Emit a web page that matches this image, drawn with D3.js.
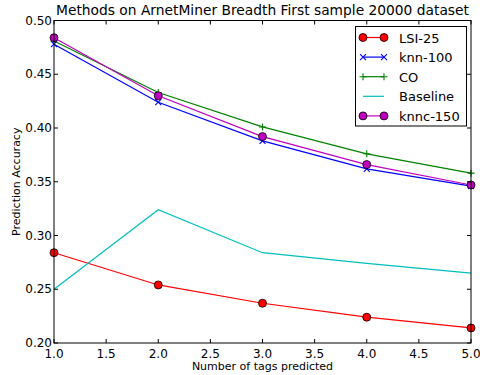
<!DOCTYPE html>
<html>
<head>
<meta charset="utf-8">
<script src="https://cdn.jsdelivr.net/npm/d3@7"></script>
<style>
  body { margin: 0; background: #fff; }
  svg { font-family: "DejaVu Sans", sans-serif; }
</style>
</head>
<body>
<div id="chart"></div>
<script>
const tagsPredicted = [1, 2, 3, 4, 5];
const lsi25 = [0.284, 0.254, 0.237, 0.224, 0.214];
const knn100 = [0.478, 0.424, 0.388, 0.362, 0.346];
const co = [0.481, 0.433, 0.401, 0.376, 0.358];
const baseline = [0.250, 0.324, 0.284, 0.274, 0.265];
const knnc150 = [0.484, 0.430, 0.392, 0.366, 0.347];
const xTicks = [1.0, 1.5, 2.0, 2.5, 3.0, 3.5, 4.0, 4.5, 5.0];
const yTicks = [0.20, 0.25, 0.30, 0.35, 0.40, 0.45, 0.50];

const series = [
  { name: 'LSI-25', values: lsi25, color: '#ff0000', marker: 'circle' },
  { name: 'knn-100', values: knn100, color: '#0000ff', marker: 'x' },
  { name: 'CO', values: co, color: '#008000', marker: 'plus' },
  { name: 'Baseline', values: baseline, color: '#00bfbf', marker: 'none' },
  { name: 'knnc-150', values: knnc150, color: '#bf00bf', marker: 'circle' },
];

const width = 480;
const height = 375;
const margin = { left: 54, top: 20.5, right: 9, bottom: 32 };

const svg = d3.select('#chart')
  .append('svg')
  .attr('width', width)
  .attr('height', height);

const x = d3.scaleLinear()
  .domain([1, 5])
  .range([margin.left, width - margin.right]);

const y = d3.scaleLinear()
  .domain([0.2, 0.5])
  .range([height - margin.bottom, margin.top]);

const plot = svg.append('g');

const line = d3.line()
  .x((d, i) => x(tagsPredicted[i]))
  .y(d => y(d));

plot.selectAll('path.series')
  .data(series)
  .enter().append('path')
    .attr('class', 'series')
    .attr('fill', 'none')
    .attr('stroke', d => d.color)
    .attr('stroke-width', 1.2)
    .attr('d', d => line(d.values));

function drawMarker(g, kind, color) {
  if (kind === 'circle') {
    g.append('circle').attr('r', 4)
      .attr('fill', color).attr('stroke', '#000').attr('stroke-width', 0.8);
  } else if (kind === 'x') {
    g.append('path').attr('d', 'M-3,-3L3,3M-3,3L3,-3')
      .attr('stroke', color).attr('stroke-width', 1.1);
  } else if (kind === 'plus') {
    g.append('path').attr('d', 'M-3.5,0H3.5M0,-3.5V3.5')
      .attr('stroke', color).attr('stroke-width', 1.1);
  }
}

series.forEach(s => {
  if (s.marker === 'none') return;
  s.values.forEach((v, i) => {
    const g = plot.append('g')
      .attr('transform', `translate(${x(tagsPredicted[i])},${y(v)})`);
    drawMarker(g, s.marker, s.color);
  });
});

// frame and inward ticks on all four sides
const x0 = x.range()[0], x1 = x.range()[1];
const y0 = y.range()[0], y1 = y.range()[1];
const frame = svg.append('g').attr('stroke', '#000').attr('fill', 'none');
frame.append('rect')
  .attr('x', x0).attr('y', y1)
  .attr('width', x1 - x0).attr('height', y0 - y1)
  .attr('stroke-width', 1);

const tickLen = 4;
xTicks.forEach(t => {
  frame.append('line').attr('x1', x(t)).attr('x2', x(t))
    .attr('y1', y0).attr('y2', y0 - tickLen);
  frame.append('line').attr('x1', x(t)).attr('x2', x(t))
    .attr('y1', y1).attr('y2', y1 + tickLen);
});
yTicks.forEach(t => {
  frame.append('line').attr('x1', x0).attr('x2', x0 + tickLen)
    .attr('y1', y(t)).attr('y2', y(t));
  frame.append('line').attr('x1', x1).attr('x2', x1 - tickLen)
    .attr('y1', y(t)).attr('y2', y(t));
});

const labels = svg.append('g').attr('font-size', 12).attr('fill', '#000');
labels.selectAll('text.xt')
  .data(xTicks)
  .enter().append('text')
    .attr('class', 'xt')
    .attr('x', d => x(d))
    .attr('y', y0 + 15)
    .attr('text-anchor', 'middle')
    .text(d => d.toFixed(1));

labels.selectAll('text.yt')
  .data(yTicks)
  .enter().append('text')
    .attr('class', 'yt')
    .attr('x', x0 - 2)
    .attr('y', d => y(d) + 4)
    .attr('text-anchor', 'end')
    .text(d => d.toFixed(2));

svg.append('text')
  .attr('x', (x0 + x1) / 2)
  .attr('y', 370)
  .attr('text-anchor', 'middle')
  .attr('font-size', 11)
  .text('Number of tags predicted');

svg.append('text')
  .attr('transform', `translate(20,${(y0 + y1) / 2}) rotate(-90)`)
  .attr('text-anchor', 'middle')
  .attr('font-size', 11)
  .text('Prediction Accuracy');

svg.append('text')
  .attr('x', (x0 + x1) / 2)
  .attr('y', 15)
  .attr('text-anchor', 'middle')
  .attr('font-size', 13.8)
  .text('Methods on ArnetMiner Breadth First sample 20000 dataset');

// legend
const legend = svg.append('g');
legend.append('rect')
  .attr('x', 355.5).attr('y', 26.5)
  .attr('width', 111).attr('height', 99.5)
  .attr('fill', '#fff').attr('stroke', '#000').attr('stroke-width', 1);

series.forEach((s, i) => {
  const ly = 37.5 + i * 19.6;
  const g = legend.append('g');
  g.append('line')
    .attr('x1', 363).attr('x2', 384)
    .attr('y1', ly).attr('y2', ly)
    .attr('stroke', s.color).attr('stroke-width', 1.2);
  if (s.marker !== 'none') {
    [363, 384].forEach(mx => {
      drawMarker(g.append('g').attr('transform', `translate(${mx},${ly})`), s.marker, s.color);
    });
  }
  g.append('text')
    .attr('x', 399).attr('y', ly + 5)
    .attr('font-size', 13)
    .text(s.name);
});
</script>
</body>
</html>
